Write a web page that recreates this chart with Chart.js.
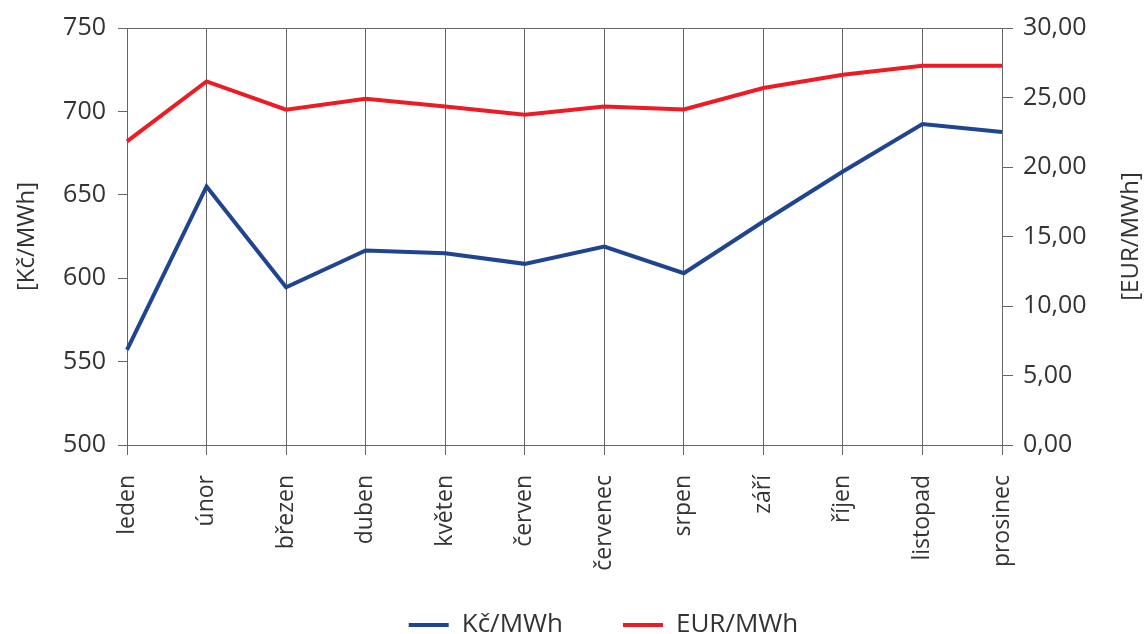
<!DOCTYPE html>
<html>
<head>
<meta charset="utf-8">
<script src="https://cdn.jsdelivr.net/npm/chart.js@4"></script>
<style>
  html, body { margin: 0; padding: 0; background: #fff; }
  #wrap { width: 1147px; height: 634px; }
</style>
</head>
<body>
<div id="wrap"><canvas id="ceny"></canvas></div>
<script>
// mesice
const months = ['leden', 'únor', 'březen', 'duben', 'květen', 'červen',
    'červenec', 'srpen', 'září', 'říjen', 'listopad', 'prosinec'];

// cena v Kč/MWh (leva osa)
const priceCzk = [557, 655, 594.6, 616.6, 615, 608.6, 619, 603, 634, 664, 692.4, 687.6];
// cena v EUR/MWh (prava osa)
const priceEur = [21.84, 26.16, 24.12, 24.91, 24.36, 23.76, 24.36, 24.14, 25.68, 26.64, 27.29, 27.29];

const leftTicks = { min: 500, max: 750, step: 50 };
const rightTicks = { min: 0, max: 30, step: 5 };

const textColor = '#333333';
const gridColor = '#666666';
const fontFamily = '"Open Sans", "DejaVu Sans", sans-serif';

// nazvy os - prava osa se cte zdola nahoru, stejne jako leva
const axisTitles = {
    id: 'axisTitles',
    afterDraw(chart) {
        const ctx = chart.ctx;
        const area = chart.chartArea;
        const midY = (area.top + area.bottom) / 2;
        ctx.save();
        ctx.fillStyle = textColor;
        ctx.font = '24px ' + fontFamily;
        ctx.textAlign = 'center';
        ctx.textBaseline = 'middle';
        [[27, '[Kč/MWh]'], [1131, '[EUR/MWh]']].forEach(([x, t]) => {
            ctx.save();
            ctx.translate(x, midY);
            ctx.rotate(-Math.PI / 2);
            ctx.fillText(t, 0, 0);
            ctx.restore();
        });
        ctx.restore();
    }
};

function createChart() {
    const ctx = document.getElementById('ceny').getContext('2d');
    new Chart(ctx, {
        type: 'line',
        data: {
            labels: months,
            datasets: [{
                label: 'Kč/MWh',
                data: priceCzk,
                yAxisID: 'y',
                borderColor: '#1f4591',
                backgroundColor: '#1f4591',
                borderWidth: 4,
                pointRadius: 0,
                tension: 0
            }, {
                label: 'EUR/MWh',
                data: priceEur,
                yAxisID: 'y1',
                borderColor: '#ed1c24',
                backgroundColor: '#ed1c24',
                borderWidth: 4,
                pointRadius: 0,
                tension: 0
            }]
        },
        options: {
            responsive: true,
            maintainAspectRatio: false,
            animation: false,
            layout: { padding: { left: 60, right: 0, top: 28, bottom: -14 } },
            plugins: {
                tooltip: { enabled: false },
                legend: {
                    position: 'bottom',
                    labels: {
                        color: textColor,
                        font: { family: fontFamily, size: 26 },
                        boxWidth: 40,
                        boxHeight: 4,
                        padding: 60,
                        generateLabels: chart => Chart.defaults.plugins.legend.labels.generateLabels(chart)
                            .map(item => ({ ...item, lineWidth: 0 }))
                    }
                }
            },
            scales: {
                x: {
                    offset: false,
                    afterFit: scale => { scale.height = 107; },
                    // popisky mesicu zasahuji az k legende, neorezavat je
                    afterUpdate: scale => { scale._computeLabelArea = () => undefined; },
                    grid: { color: gridColor, tickColor: gridColor, tickLength: 10, lineWidth: 1 },
                    border: { color: gridColor },
                    ticks: {
                        color: textColor,
                        font: { family: fontFamily, size: 23 },
                        minRotation: 90,
                        maxRotation: 90,
                        padding: 20,
                        autoSkip: false
                    }
                },
                y: {
                    position: 'left',
                    min: leftTicks.min,
                    max: leftTicks.max,
                    afterFit: scale => { scale.width = 67; },
                    grid: {
                        drawOnChartArea: true,
                        color: c => (c.tick && c.tick.value === leftTicks.max) ? gridColor : 'rgba(0,0,0,0)',
                        tickColor: gridColor,
                        tickLength: 9
                    },
                    border: { color: gridColor },
                    ticks: {
                        stepSize: leftTicks.step,
                        color: textColor,
                        font: { family: fontFamily, size: 25 },
                        padding: 12
                    }
                },
                y1: {
                    position: 'right',
                    min: rightTicks.min,
                    max: rightTicks.max,
                    afterFit: scale => { scale.width = 145; },
                    grid: { drawOnChartArea: false, tickColor: gridColor, tickLength: 11 },
                    border: { color: gridColor },
                    ticks: {
                        stepSize: rightTicks.step,
                        color: textColor,
                        font: { family: fontFamily, size: 25 },
                        padding: 10,
                        callback: v => v.toFixed(2).replace('.', ',')
                    }
                }
            }
        },
        plugins: [axisTitles]
    });
}

window.onload = function() {
    createChart();
};
</script>
</body>
</html>
